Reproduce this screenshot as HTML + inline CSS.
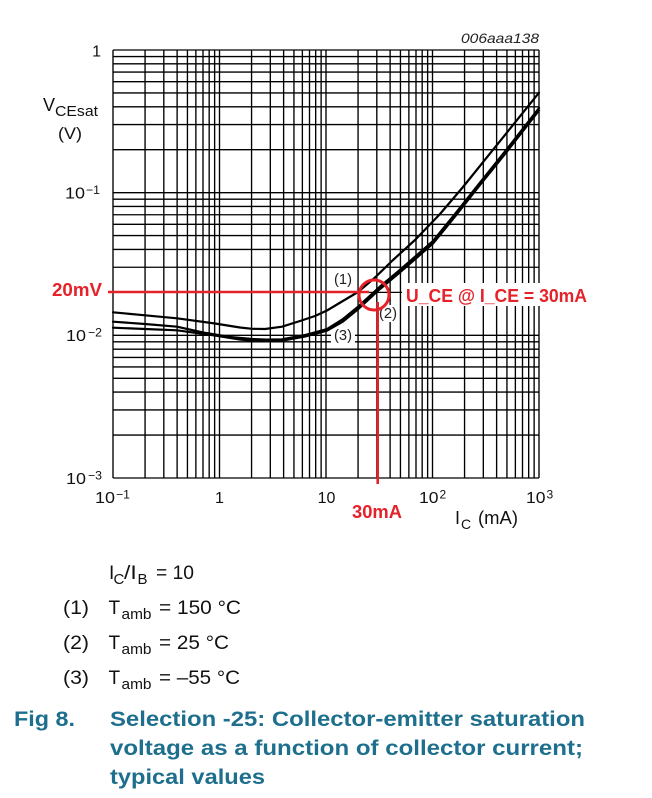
<!DOCTYPE html>
<html><head><meta charset="utf-8"><style>
html,body{margin:0;padding:0;background:#fff;}
svg{display:block;}
text{font-family:"Liberation Sans",Arial,sans-serif;}
</style></head><body>
<svg width="652" height="798" viewBox="0 0 652 798" xmlns="http://www.w3.org/2000/svg">
<rect width="652" height="798" fill="#fff"/>
<g stroke="#000" stroke-width="1.35" fill="none">
<!-- vertical grid -->
<path d="M113 50V478M145.06 50V478M163.81 50V478M177.12 50V478M187.44 50V478M195.87 50V478M203 50V478M209.18 50V478M214.63 50V478
M219.5 50V478M251.56 50V478M270.31 50V478M283.62 50V478M293.94 50V478M302.37 50V478M309.5 50V478M315.68 50V478M321.13 50V478
M326 50V478M358.06 50V478M376.81 50V478M390.12 50V478M400.44 50V478M408.87 50V478M416 50V478M422.18 50V478M427.63 50V478
M432.5 50V478M464.56 50V478M483.31 50V478M496.62 50V478M506.94 50V478M515.37 50V478M522.5 50V478M528.68 50V478M534.13 50V478M539 50V478"/>
<!-- horizontal grid -->
<path d="M113 50H539M113 56.53H539M113 63.82H539M113 72.1H539M113 81.65H539M113 92.95H539M113 106.77H539M113 124.6H539M113 149.72H539M113 192.67H539
M113 199.19H539M113 206.48H539M113 214.76H539M113 224.31H539M113 235.61H539M113 249.43H539M113 267.26H539M113 292.38H539M113 335.33H539
M113 341.86H539M113 349.15H539M113 357.43H539M113 366.98H539M113 378.28H539M113 392.1H539M113 409.93H539M113 435.05H539M113 478H539"/>
</g>
<!-- label boxes -->
<rect x="331" y="272" width="24" height="17" fill="#fff"/>
<rect x="377" y="305" width="22" height="17" fill="#fff"/>
<rect x="331" y="328" width="24" height="17" fill="#fff"/>
<rect x="402" y="283" width="190" height="23" fill="#fff"/>
<text x="334" y="284" font-size="15" fill="#222" textLength="18" lengthAdjust="spacingAndGlyphs">(1)</text>
<text x="379" y="318" font-size="15" fill="#222" textLength="18" lengthAdjust="spacingAndGlyphs">(2)</text>
<text x="334" y="340" font-size="15" fill="#222" textLength="18" lengthAdjust="spacingAndGlyphs">(3)</text>
<!-- curves -->
<g fill="none" stroke="#000" stroke-width="2.2" stroke-linejoin="round" stroke-linecap="round">
<polyline points="113,312.3 145,315.3 177,318.3 215,323.5 240,327.5 252,328.8 265,329 282,326.7 300,321 315,316 327,310.5 342,301.5 358,292 375,277.5 393,260 415,240 440,214 463,187 485,159.7 510,128.7 539,92.7"/>
<polyline points="113,321.7 145,324 177,326.7 203,332.5 230,337 252,339 267,339.6 282,339.3 305,335 327,329 343,319 358,306.7 380,286.5 398,271.5 413,258.5 433,241 455,214 480,182.5 507,149 539,108"/>
<polyline points="113,327.7 145,329 177,330.3 215,335.5 240,339.5 252,340.7 267,341 282,340.7 305,336.5 327,330.7 343,321.5 358,309.3 380,289 398,274 413,261 433,243.5 455,216.5 480,185 507,151.5 539,110.5"/>
</g>
<!-- red annotations -->
<g stroke="#e5222a" fill="none">
<line x1="108" y1="292" x2="369" y2="292" stroke-width="2.6"/>
<line x1="377.7" y1="302" x2="377.7" y2="484" stroke-width="2.6"/>
<circle cx="374" cy="295" r="15" stroke-width="3"/>
</g>
<g fill="#e5222a" font-weight="bold" font-size="18">
<text x="52" y="296" textLength="50" lengthAdjust="spacingAndGlyphs">20mV</text>
<text x="406" y="302" textLength="181" lengthAdjust="spacingAndGlyphs">U_CE @ I_CE = 30mA</text>
<text x="352" y="518" textLength="50" lengthAdjust="spacingAndGlyphs">30mA</text>
</g>
<!-- chart id -->
<text x="461" y="43" font-size="14" font-style="italic" fill="#222" textLength="78" lengthAdjust="spacingAndGlyphs">006aaa138</text>
<!-- y axis labels -->
<g fill="#111" font-size="16">
<text x="101" y="56.5" text-anchor="end">1</text>
<text x="65" y="198.5" textLength="20" lengthAdjust="spacingAndGlyphs">10</text>
<text x="86" y="194" font-size="12" textLength="14" lengthAdjust="spacingAndGlyphs">−1</text>
<text x="66" y="341" textLength="20" lengthAdjust="spacingAndGlyphs">10</text>
<text x="88" y="336.5" font-size="12" textLength="14" lengthAdjust="spacingAndGlyphs">−2</text>
<text x="66" y="484" textLength="20" lengthAdjust="spacingAndGlyphs">10</text>
<text x="88" y="479.5" font-size="12" textLength="14" lengthAdjust="spacingAndGlyphs">−3</text>
<text x="43" y="111" font-size="18">V</text>
<text x="55" y="116" font-size="14.5" textLength="43" lengthAdjust="spacingAndGlyphs">CEsat</text>
<text x="58" y="139" font-size="17" textLength="24" lengthAdjust="spacingAndGlyphs">(V)</text>
<!-- x axis labels -->
<text x="95" y="503" textLength="20" lengthAdjust="spacingAndGlyphs">10</text>
<text x="116" y="498.5" font-size="12" textLength="14" lengthAdjust="spacingAndGlyphs">−1</text>
<text x="219.5" y="503" text-anchor="middle">1</text>
<text x="326.5" y="503" text-anchor="middle">10</text>
<text x="419" y="503" textLength="19.5" lengthAdjust="spacingAndGlyphs">10</text>
<text x="439.5" y="498.5" font-size="12">2</text>
<text x="526" y="503" textLength="19.5" lengthAdjust="spacingAndGlyphs">10</text>
<text x="546.5" y="498.5" font-size="12">3</text>
<text x="455" y="524" font-size="18">I</text>
<text x="461" y="529" font-size="14">C</text>
<text x="478" y="524" font-size="18" textLength="40" lengthAdjust="spacingAndGlyphs">(mA)</text>
</g>
<!-- legend -->
<g fill="#111" font-size="19">
<text x="109" y="579">I</text>
<text x="113.5" y="584" font-size="15">C</text>
<text x="124" y="579" textLength="12.7" lengthAdjust="spacingAndGlyphs">/I</text>
<text x="137.5" y="584" font-size="15">B</text>
<text x="156" y="579" textLength="38" lengthAdjust="spacingAndGlyphs">= 10</text>

<text x="63" y="614" textLength="26" lengthAdjust="spacingAndGlyphs">(1)</text>
<text x="108.5" y="614">T</text>
<text x="121.5" y="619" font-size="15" textLength="30" lengthAdjust="spacingAndGlyphs">amb</text>
<text x="159" y="614" textLength="82" lengthAdjust="spacingAndGlyphs">= 150 °C</text>

<text x="63" y="649" textLength="26" lengthAdjust="spacingAndGlyphs">(2)</text>
<text x="108.5" y="649">T</text>
<text x="121.5" y="654" font-size="15" textLength="30" lengthAdjust="spacingAndGlyphs">amb</text>
<text x="159" y="649" textLength="70" lengthAdjust="spacingAndGlyphs">= 25 °C</text>

<text x="63" y="684" textLength="26" lengthAdjust="spacingAndGlyphs">(3)</text>
<text x="108.5" y="684">T</text>
<text x="121.5" y="689" font-size="15" textLength="30" lengthAdjust="spacingAndGlyphs">amb</text>
<text x="159" y="684" textLength="81" lengthAdjust="spacingAndGlyphs">= –55 °C</text>
</g>
<!-- caption -->
<g fill="#1e6f8e" font-weight="bold" font-size="21">
<text x="14" y="726" textLength="61" lengthAdjust="spacingAndGlyphs">Fig 8.</text>
<text x="110" y="726" textLength="475" lengthAdjust="spacingAndGlyphs">Selection -25: Collector-emitter saturation</text>
<text x="110" y="755" textLength="473" lengthAdjust="spacingAndGlyphs">voltage as a function of collector current;</text>
<text x="110" y="784" textLength="155" lengthAdjust="spacingAndGlyphs">typical values</text>
</g>
</svg>
</body></html>
